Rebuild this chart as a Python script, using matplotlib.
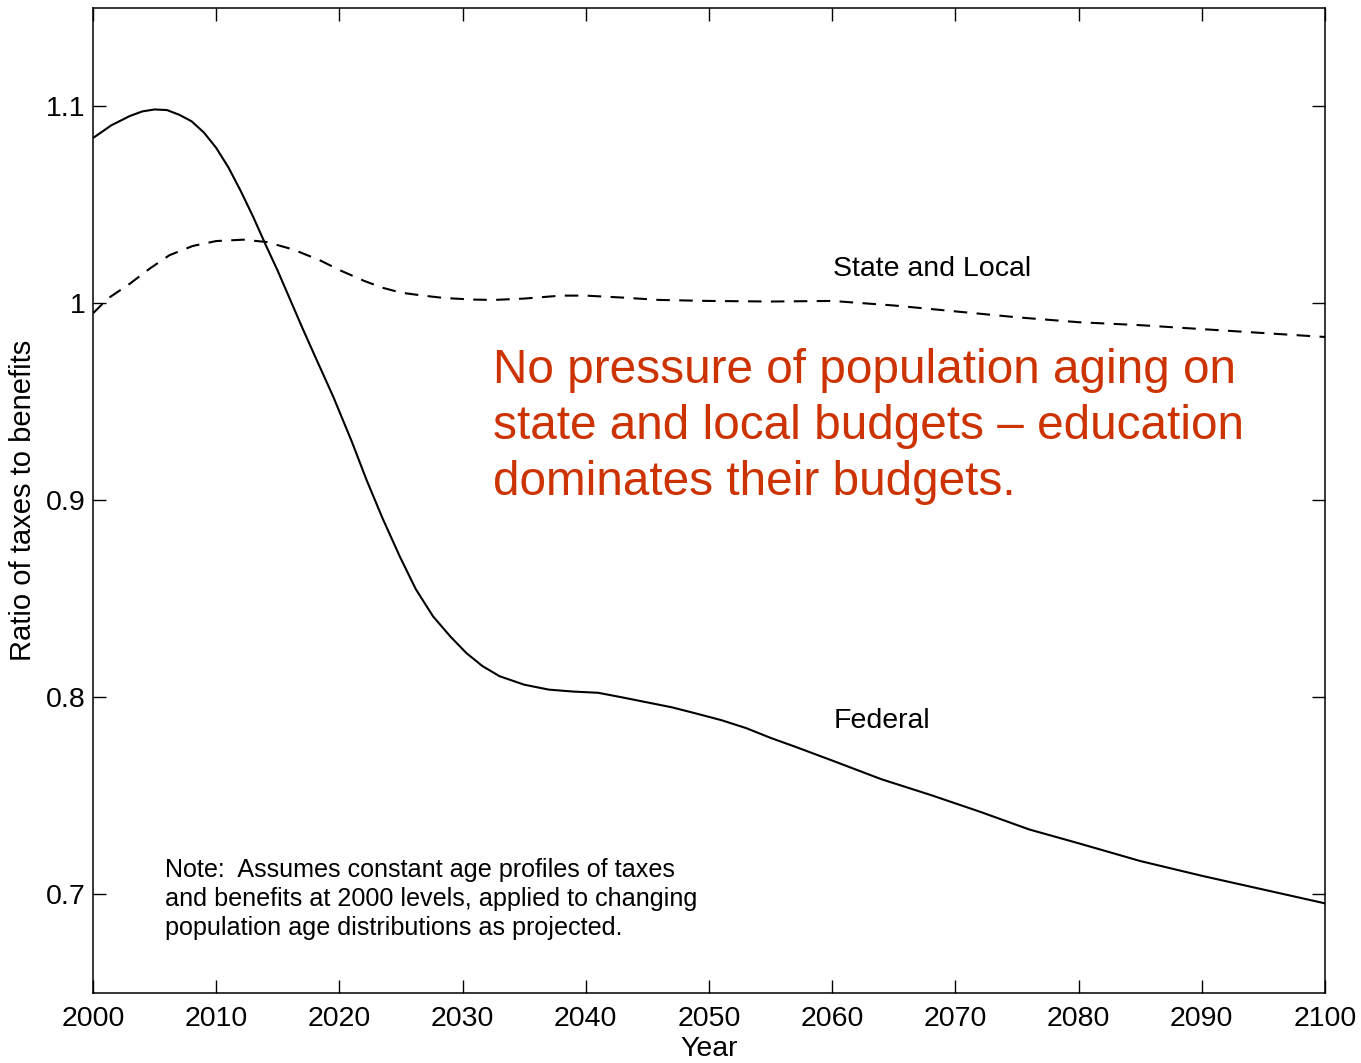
import matplotlib
matplotlib.use("Agg")
import matplotlib.pyplot as plt

plt.rcParams['font.family'] = ['Liberation Sans', 'DejaVu Sans']

# Federal ratio of taxes to benefits
fed_years = [2000, 2001.5, 2003, 2004, 2005, 2006, 2007, 2008, 2009, 2010, 2011,
             2012, 2013, 2014, 2015, 2016, 2017, 2018, 2019.5, 2021, 2022.2,
             2023.5, 2024.9, 2026.2, 2027.6, 2029, 2030.3, 2031.6, 2033, 2035,
             2037, 2039, 2041, 2043, 2045, 2047, 2049, 2051, 2053, 2055, 2057,
             2060, 2064, 2068, 2072, 2076, 2080, 2085, 2090, 2095, 2100]
fed_vals = [1.084, 1.0905, 1.0952, 1.0975, 1.0985, 1.0982, 1.0958, 1.0925, 1.0868, 1.079, 1.069,
            1.057, 1.044, 1.030, 1.0165, 1.002, 0.9875, 0.9735, 0.9527, 0.930, 0.9105,
            0.891, 0.8716, 0.855, 0.8412, 0.831, 0.8226, 0.816, 0.8108, 0.8065,
            0.804, 0.803, 0.8024, 0.800, 0.7975, 0.795, 0.7918, 0.7885, 0.7845, 0.7795, 0.775,
            0.768, 0.7585, 0.7505, 0.742, 0.733, 0.726, 0.717, 0.7095, 0.7025, 0.6955]

# State and local ratio of taxes to benefits
sl_years = [2000, 2001.2, 2003, 2004.6, 2006.2, 2008.1, 2010, 2012.2, 2014.1, 2016.2,
            2018.4, 2020, 2022, 2023.5, 2025, 2026.8, 2028.5, 2030.8, 2032.5, 2035,
            2038, 2040, 2043, 2046, 2050, 2055, 2060, 2065, 2070, 2075, 2080, 2085,
            2090, 2095, 2100]
sl_vals = [0.995, 1.0025, 1.0101, 1.0177, 1.0245, 1.0292, 1.0317, 1.0324, 1.0312, 1.0275,
           1.022, 1.017, 1.0115, 1.008, 1.0055, 1.004, 1.0028, 1.002, 1.0018, 1.0025,
           1.004, 1.004, 1.003, 1.0018, 1.0013, 1.001, 1.0013, 0.999, 0.996, 0.993, 0.9905, 0.989,
           0.987, 0.985, 0.983]

x_ticks = list(range(2000, 2101, 10))
y_ticks = [0.7, 0.8, 0.9, 1.0, 1.1]
y_tick_labels = ["0.7", "0.8", "0.9", "1", "1.1"]

red = '#CC3300'

fig = plt.figure(figsize=(13.61, 10.63), dpi=100)
ax = fig.add_axes([93/1361, 1 - 993/1063, (1325-93)/1361, (993-8)/1063])

ax.plot(fed_years, fed_vals, color='black', lw=1.5, solid_capstyle='butt')
ax.plot(sl_years, sl_vals, color='black', lw=1.5, dashes=(6.5, 4.5))

ax.set_xlim(2000, 2100)
ax.set_ylim(0.65, 1.15)
ax.set_xticks(x_ticks)
ax.set_yticks(y_ticks)
ax.set_yticklabels(y_tick_labels)
ax.tick_params(direction='in', length=9.5, width=1.0, top=True, right=True,
               labelsize=20.5, colors='black')
ax.tick_params(axis='x', pad=9)
ax.tick_params(axis='y', pad=5.5)
for s in ax.spines.values():
    s.set_linewidth(1.1)

ax.set_xlabel('Year', fontsize=20.5, labelpad=3)
ax.set_ylabel('Ratio of taxes to benefits', fontsize=21, labelpad=6)

ax.text(2060.1, 1.0138, 'State and Local', fontsize=20.5, ha='left', va='baseline')
ax.text(2060.1, 0.7847, 'Federal', fontsize=20.5, ha='left', va='baseline')

fig.text(165/1361, 1 - 935/1063,
         'Note:  Assumes constant age profiles of taxes\n'
         'and benefits at 2000 levels, applied to changing\n'
         'population age distributions as projected.',
         fontsize=18.1, ha='left', va='baseline', linespacing=1.27)

fig.text(493/1361, 1 - 348/1063,
         'No pressure of population aging on\n'
         'state and local budgets \u2013 education\n'
         'dominates their budgets.',
         color=red, fontsize=34.4, ha='left', va='top', linespacing=1.31)

fig.savefig('out.png', dpi=100)
